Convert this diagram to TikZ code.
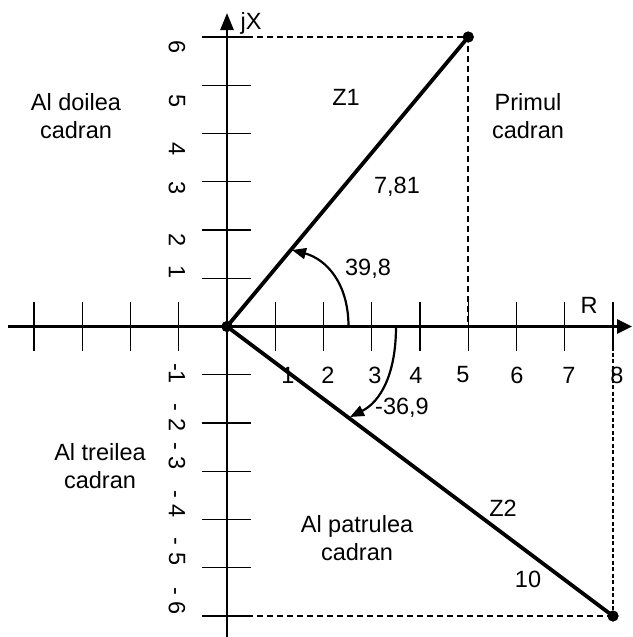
\documentclass[tikz,border=0pt]{standalone}
\usepackage{fontspec}
\setmainfont{Liberation Sans}
\usetikzlibrary{arrows.meta}
\begin{document}
\begin{tikzpicture}[x=1pt,y=-1pt,
  lbl/.style={font=\fontsize{23.5}{28}\selectfont, inner sep=0pt, align=center},
  ylbl/.style={lbl, rotate=-90},
  axis/.style={line width=2.6pt},
  tickln/.style={line width=1.4pt},
  vec/.style={line width=3.8pt},
  guide/.style={line width=2.2pt, dash pattern=on 6pt off 4pt},
  thinguide/.style={line width=1.4pt, dash pattern=on 4pt off 2.5pt},
  anglearc/.style={line width=2.2pt, -{Triangle[length=14pt,width=11pt]}},
  dotst/.style={circle, fill=black, inner sep=0pt, minimum size=11pt}
]
\useasboundingbox (0,0) rectangle (632,637);
% axes
\coordinate (xl) at (8,326.5);
\coordinate (xr) at (632,326.5);
\coordinate (yb) at (227,637);
\coordinate (yt) at (227,13);
\draw[axis,-{Triangle[length=15pt,width=14pt]}] (xl) -- (xr);
\draw[axis,-{Triangle[length=17pt,width=13pt]}] (yb) -- (yt);
% ticks
\foreach \k in {-4,-3,-2,-1,1,2,3,4,5,6,7,8}
  \draw[tickln] ({227+\k*48.25},302) -- ({227+\k*48.25},351);
\foreach \k in {-6,-5,-4,-3,-2,-1,1,2,3,4,5,6}
  \draw[tickln] (202,{326.5-\k*48.25}) -- (251,{326.5-\k*48.25});
% points
\node[dotst] (o) at (227,326.5) {};
\node[dotst] (p1) at (468.25,37) {};
\node[dotst] (p2) at (613,616) {};
\coordinate (p1y) at (227,37);
\coordinate (p1x) at (468.25,326.5);
\coordinate (p2y) at (227,616);
\coordinate (p2x) at (613,326.5);
% guides
\draw[guide] (p1y) -- (p1.center) -- (p1x);
\draw[guide] (p2y) -- (p2.center);
\draw[thinguide] (p2x) -- (p2.center);
% vectors
\draw[vec] (o.center) -- (p1.center);
\draw[vec] (o.center) -- (p2.center);
\node[dotst] at (o) {};
\node[dotst] at (p1) {};
\node[dotst] at (p2) {};
% angle arcs
\coordinate (a1s) at (348.5,326.5);
\coordinate (a1e) at (292,250);
\coordinate (a2s) at (396,326.5);
\coordinate (a2e) at (350,417);
\draw[anglearc] (a1s) .. controls (348.5,283) and (326,259) .. (a1e);
\draw[anglearc] (a2s) .. controls (396,375) and (380,402) .. (a2e);
% x labels
\node[lbl] (x1) at (288,375) {1};
\node[lbl] (x2) at (328,375) {2};
\node[lbl] (x3) at (375,375) {3};
\node[lbl] (x4) at (416,375) {4};
\node[lbl] (x5) at (463,375) {5};
\node[lbl] (x6) at (517,375) {6};
\node[lbl] (x7) at (569,375) {7};
\node[lbl] (x8) at (617,375) {8};
% y labels
\node[ylbl] (y6) at (177,46.7) {6};
\node[ylbl] (y5) at (177,100.8) {5};
\node[ylbl] (y4) at (177,149) {4};
\node[ylbl] (y3) at (177,188.5) {3};
\node[ylbl] (y2) at (177,240) {2};
\node[ylbl] (y1) at (177,271.7) {1};
\node[ylbl] (ym1) at (177,373.5) {-1};
\node[ylbl] (ym2) at (177,417.5) {- 2};
\node[ylbl] (ym3) at (177,455.8) {- 3};
\node[ylbl] (ym4) at (177,504) {- 4};
\node[ylbl] (ym5) at (177,551.7) {- 5};
\node[ylbl] (ym6) at (177,601) {- 6};
% texts
\node[lbl] (jx) at (251,23) {jX};
\node[lbl] (rr) at (589,305) {R};
\node[lbl] (q2) at (76,116) {Al doilea\\cadran};
\node[lbl] (q1) at (528,116) {Primul\\cadran};
\node[lbl] (q3) at (100,466) {Al treilea\\cadran};
\node[lbl] (q4) at (357,538) {Al patrulea\\cadran};
\node[lbl] (z1) at (346,97) {Z1};
\node[lbl] (m1) at (397,187) {7,81};
\node[lbl] (an1) at (368,269) {39,8};
\node[lbl] (an2) at (402,408) {-36,9};
\node[lbl] (z2) at (503,508) {Z2};
\node[lbl] (m2) at (528,579) {10};
\end{tikzpicture}
\end{document}
